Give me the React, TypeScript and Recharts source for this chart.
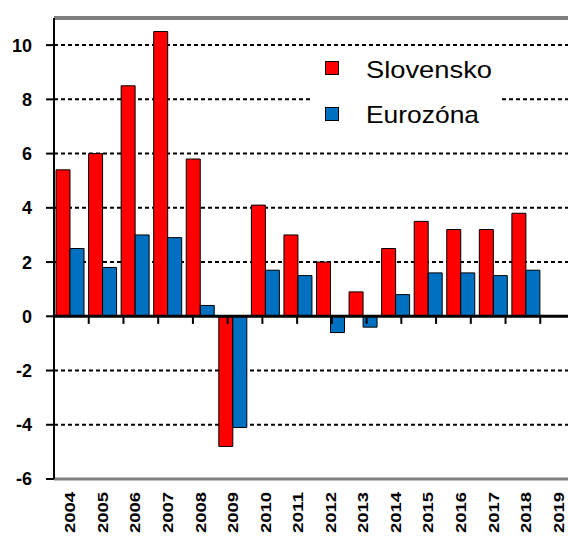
import React from 'react';
import {
  BarChart,
  Bar,
  XAxis,
  YAxis,
  CartesianGrid,
  Legend,
  ReferenceLine,
} from 'recharts';

const years = [
  '2004', '2005', '2006', '2007', '2008', '2009', '2010', '2011',
  '2012', '2013', '2014', '2015', '2016', '2017', '2018', '2019',
];
const slovensko = [5.4, 6.0, 8.5, 10.5, 5.8, -4.8, 4.1, 3.0, 2.0, 0.9, 2.5, 3.5, 3.2, 3.2, 3.8, null];
const eurozona = [2.5, 1.8, 3.0, 2.9, 0.4, -4.1, 1.7, 1.5, -0.6, -0.4, 0.8, 1.6, 1.6, 1.5, 1.7, null];
const yTicks = [-6, -4, -2, 0, 2, 4, 6, 8, 10];
const gridValues = [-4, -2, 2, 4, 6, 8, 10];
const seriesNames = ['Slovensko', 'Eurozóna'];
const seriesColors = ['#ff0000', '#0070c0'];

const data = years.map((year, i) => ({
  year,
  slovensko: slovensko[i],
  eurozona: eurozona[i],
}));

// category boundaries (between years) get the small tick marks on the zero line
const boundaries = years.slice(1, years.length).map((_, i) => i + 1);

const FONT = 'Arial, "Liberation Sans", sans-serif';

function YTick({ x, y, payload }: any) {
  return (
    <text
      x={x}
      y={y}
      dy='0.36em'
      textAnchor='end'
      fontFamily={FONT}
      fontWeight='bold'
      fontSize={18}
      fill='#000'
    >
      {payload.value}
    </text>
  );
}

function XTick({ x, y, payload }: any) {
  if (!payload.value) return null;
  return (
    <text
      x={x + 5}
      y={y}
      transform={`rotate(-90 ${x + 5} ${y})`}
      textAnchor='end'
      fontFamily={FONT}
      fontWeight='bold'
      fontSize={14}
      fill='#000'
      textLength={41}
      lengthAdjust='spacingAndGlyphs'
    >
      {payload.value}
    </text>
  );
}

function LegendBox() {
  return (
    <svg width={190} height={95} style={{ display: 'block', background: '#fff' }}>
      {seriesNames.map((name, i) => (
        <g key={name}>
          <rect
            x={13.5}
            y={11.5 + i * 46}
            width={13}
            height={13}
            fill={seriesColors[i]}
            stroke='#000'
            strokeWidth={1}
          />
          <text
            x={54}
            y={28 + i * 45}
            fontFamily={FONT}
            fontSize={24}
            fill='#000'
            textLength={i === 0 ? 126 : 113}
            lengthAdjust='spacingAndGlyphs'
          >
            {name}
          </text>
        </g>
      ))}
    </svg>
  );
}

export default function App() {
  return (
    <div
      style={{
        position: 'absolute',
        left: 0,
        top: 0,
        width: 568,
        height: 536,
        overflow: 'hidden',
        background: '#fff',
      }}
    >
      <BarChart
        width={575}
        height={536}
        data={data}
        margin={{ top: 18, right: 0, left: 0, bottom: 0 }}
        barCategoryGap={2}
        barGap={0}
      >
        <CartesianGrid
          vertical={false}
          horizontalValues={gridValues}
          stroke='#000'
          strokeWidth={2}
          strokeDasharray='4 3'
        />
        <XAxis
          dataKey='year'
          height={57}
          axisLine={false}
          tickLine={false}
          tickSize={0}
          tickMargin={13}
          interval={0}
          tick={<XTick />}
        />
        <XAxis xAxisId='n' type='number' domain={[0, years.length]} hide />
        <YAxis
          width={54}
          domain={[-6, 11]}
          ticks={yTicks}
          interval={0}
          axisLine={{ stroke: '#000', strokeWidth: 2 }}
          tickLine={{ stroke: '#000', strokeWidth: 2 }}
          tickSize={8}
          tickMargin={14}
          tick={<YTick />}
        />
        <Legend
          layout='vertical'
          align='center'
          verticalAlign='middle'
          content={<LegendBox />}
          wrapperStyle={{ position: 'absolute', left: 312, top: 50, width: 190, height: 95 }}
        />
        <Bar
          dataKey='slovensko'
          name={seriesNames[0]}
          fill={seriesColors[0]}
          stroke='#000'
          strokeWidth={1}
          isAnimationActive={false}
        />
        <Bar
          dataKey='eurozona'
          name={seriesNames[1]}
          fill={seriesColors[1]}
          stroke='#000'
          strokeWidth={1}
          isAnimationActive={false}
        />
        <ReferenceLine y={11} stroke='#808080' strokeWidth={4} />
        <ReferenceLine y={-6} stroke='#808080' strokeWidth={3} />
        <ReferenceLine y={0} stroke='#000' strokeWidth={3} />
        {boundaries.map((b) => (
          <ReferenceLine
            key={b}
            xAxisId='n'
            segment={[
              { x: b, y: 0 },
              { x: b, y: -0.28 },
            ]}
            stroke='#000'
            strokeWidth={2}
          />
        ))}
      </BarChart>
    </div>
  );
}
